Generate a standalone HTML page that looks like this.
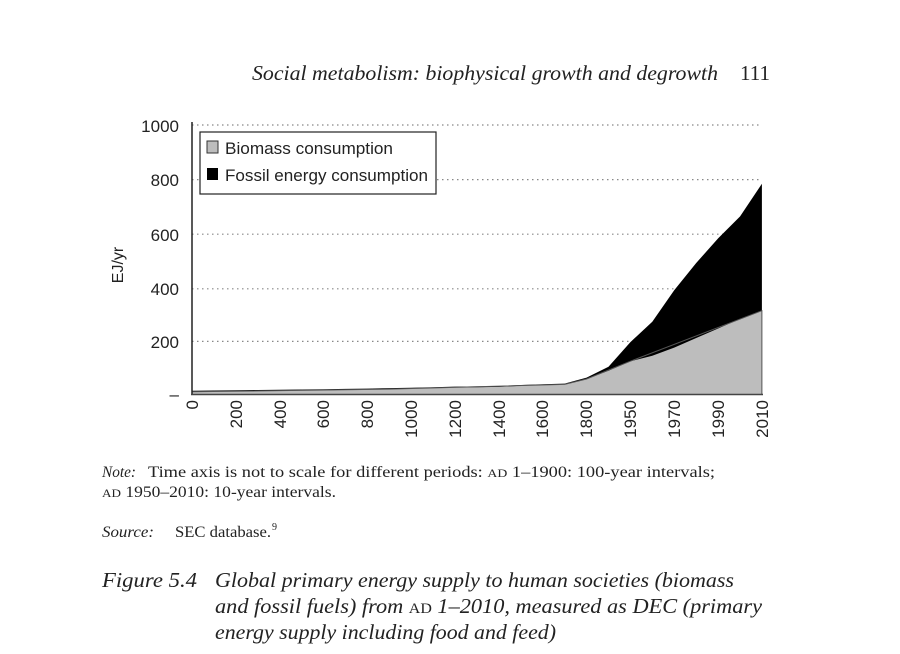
<!DOCTYPE html>
<html><head><meta charset="utf-8"><style>
body{margin:0;background:#fff;width:900px;height:654px;overflow:hidden}
svg{display:block}
.s{font-family:"Liberation Serif",serif}
.a{font-family:"Liberation Sans",sans-serif}
</style></head><body>
<svg width="900" height="654" xmlns="http://www.w3.org/2000/svg">
<text x="252" y="80" class="s" font-size="21" font-style="italic" fill="#222" textLength="466" lengthAdjust="spacingAndGlyphs">Social metabolism: biophysical growth and degrowth</text>
<text x="740" y="80" class="s" font-size="21" fill="#222" textLength="30" lengthAdjust="spacingAndGlyphs">111</text>
<g stroke="#888" stroke-width="1.2" stroke-dasharray="1.5 3.5">
<line x1="192" y1="125" x2="762" y2="125"/>
<line x1="192" y1="179.6" x2="762" y2="179.6"/>
<line x1="192" y1="234.2" x2="762" y2="234.2"/>
<line x1="192" y1="288.8" x2="762" y2="288.8"/>
<line x1="192" y1="341.4" x2="762" y2="341.4"/>
</g>
<polygon fill="#000" points="192,394 192,390.8 213.9,390.5 235.8,390.3 257.8,390 279.7,389.7 301.6,389.5 323.5,389.2 345.4,388.9 367.4,388.6 389.3,388.1 411.2,387.7 433.1,387.2 455,386.6 477,386.4 498.9,386.1 520.8,385 542.7,384.2 564.6,383.6 586.6,377.6 608.5,366.7 630.4,342.1 652.3,321.7 674.2,290.3 696.2,263 718.1,238.4 740,216.5 761.9,183.8 761.9,394"/>
<polygon fill="#bdbdbd" points="192,394 192,391.8 213.9,391.5 235.8,391.3 257.8,391 279.7,390.7 301.6,390.5 323.5,390.2 345.4,389.9 367.4,389.6 389.3,389.1 411.2,388.5 433.1,388 455,387.4 477,387.2 498.9,386.9 520.8,385.8 542.7,385 564.6,384.4 586.6,379 608.5,370.8 630.4,361.2 652.3,355.8 674.2,347.6 696.2,338 718.1,328.5 740,318.9 761.9,310.7 761.9,394"/>
<polyline fill="none" stroke="#555" stroke-width="1" points="192,394 192,391.8 389.3,389.1 564.6,384.4 586.6,379 630.4,361.2 761.9,310.7 761.9,394"/>
<line x1="192" y1="122" x2="192" y2="395" stroke="#222" stroke-width="1.5"/>
<line x1="191" y1="394.5" x2="763" y2="394.5" stroke="#444" stroke-width="1.5"/>
<g class="a" font-size="17" fill="#222" text-anchor="end">
<text x="179" y="132">1000</text>
<text x="179" y="186">800</text>
<text x="179" y="241">600</text>
<text x="179" y="295">400</text>
<text x="179" y="348">200</text>
<text x="179" y="400">–</text>
</g>
<text transform="translate(123,265) rotate(-90)" text-anchor="middle" class="a" font-size="16" fill="#222">EJ/yr</text>
<g class="a" font-size="17" fill="#222" text-anchor="end">
<text transform="translate(198,400) rotate(-90)">0</text>
<text transform="translate(242,400) rotate(-90)">200</text>
<text transform="translate(286,400) rotate(-90)">400</text>
<text transform="translate(329,400) rotate(-90)">600</text>
<text transform="translate(373,400) rotate(-90)">800</text>
<text transform="translate(417,400) rotate(-90)">1000</text>
<text transform="translate(461,400) rotate(-90)">1200</text>
<text transform="translate(505,400) rotate(-90)">1400</text>
<text transform="translate(548,400) rotate(-90)">1600</text>
<text transform="translate(592,400) rotate(-90)">1800</text>
<text transform="translate(636,400) rotate(-90)">1950</text>
<text transform="translate(680,400) rotate(-90)">1970</text>
<text transform="translate(724,400) rotate(-90)">1990</text>
<text transform="translate(768,400) rotate(-90)">2010</text>
</g>
<rect x="200" y="132" width="236" height="62" fill="#fff" stroke="#222" stroke-width="1.2"/>
<rect x="207" y="141" width="11" height="12" fill="#bdbdbd" stroke="#333"/>
<rect x="207" y="168" width="11" height="12" fill="#000"/>
<g class="a" font-size="17" fill="#222">
<text x="225" y="154" textLength="168" lengthAdjust="spacingAndGlyphs">Biomass consumption</text>
<text x="225" y="181" textLength="203" lengthAdjust="spacingAndGlyphs">Fossil energy consumption</text>
</g>
<g class="s" font-size="16" fill="#222">
<text x="102" y="477" font-style="italic" textLength="34" lengthAdjust="spacingAndGlyphs">Note:</text>
<text x="148" y="477" textLength="567" lengthAdjust="spacingAndGlyphs">Time axis is not to scale for different periods: <tspan font-size="12">AD</tspan> 1–1900: 100-year intervals;</text>
<text x="102" y="497" textLength="234" lengthAdjust="spacingAndGlyphs"><tspan font-size="12">AD</tspan> 1950–2010: 10-year intervals.</text>
<text x="102" y="537" font-style="italic" textLength="52" lengthAdjust="spacingAndGlyphs">Source:</text>
<text x="175" y="537" textLength="96" lengthAdjust="spacingAndGlyphs">SEC database.</text>
<text x="272" y="530" font-size="10">9</text>
</g>
<g class="s" font-size="21" font-style="italic" fill="#222">
<text x="102" y="587" textLength="95" lengthAdjust="spacingAndGlyphs">Figure 5.4</text>
<text x="215" y="587" textLength="519" lengthAdjust="spacingAndGlyphs">Global primary energy supply to human societies (biomass</text>
<text x="215" y="613" textLength="547" lengthAdjust="spacingAndGlyphs">and fossil fuels) from <tspan font-style="normal" font-size="15">AD</tspan> 1–2010, measured as DEC (primary</text>
<text x="215" y="639" textLength="341" lengthAdjust="spacingAndGlyphs">energy supply including food and feed)</text>
</g>
</svg>
</body></html>
